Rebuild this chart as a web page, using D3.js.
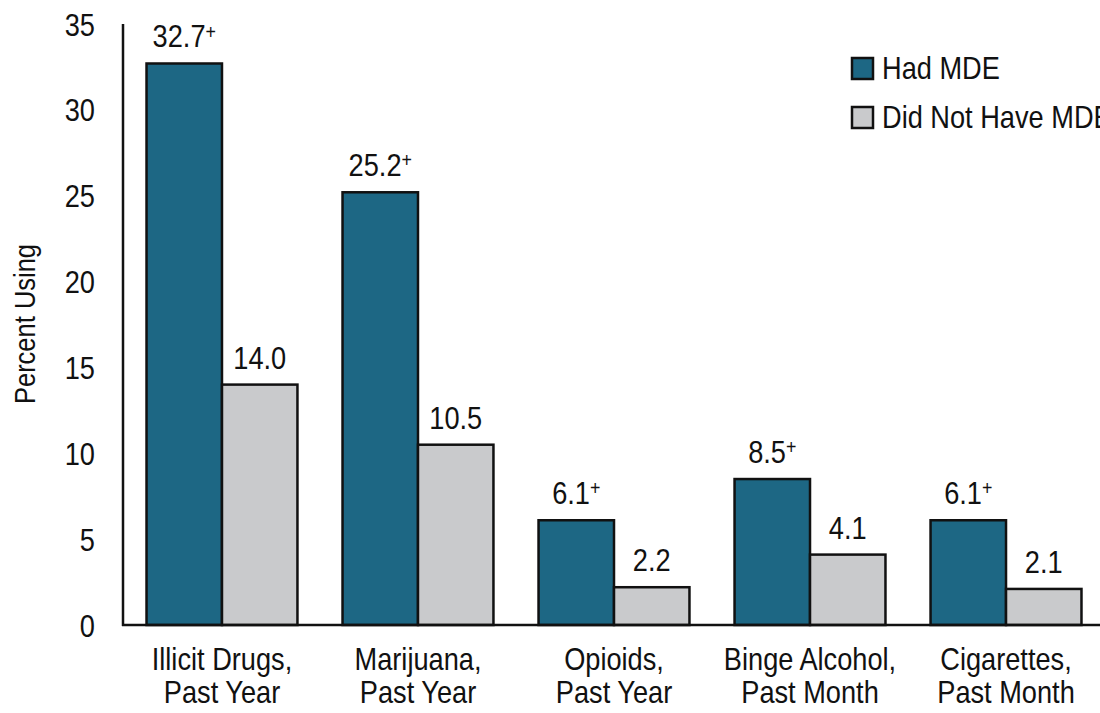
<!DOCTYPE html>
<html>
  <head>
    <meta charset="utf-8" />
    <title>Substance Use by MDE Status</title>
    <script src="https://d3js.org/d3.v7.min.js"></script>
    <style>
      body { margin: 0; background: #fff; }
      svg text { font-family: "Liberation Sans", Arial, sans-serif; fill: #111; }
    </style>
  </head>
  <body>
    <svg id="canvas" width="1100" height="713"></svg>
    <script>
      // data
      var categories = [
        ["Illicit Drugs,", "Past Year"],
        ["Marijuana,", "Past Year"],
        ["Opioids,", "Past Year"],
        ["Binge Alcohol,", "Past Month"],
        ["Cigarettes,", "Past Month"]
      ];
      var seriesNames = ["Had MDE", "Did Not Have MDE"];
      var hadMDE = [32.7, 25.2, 6.1, 8.5, 6.1];
      var noMDE = [14.0, 10.5, 2.2, 4.1, 2.1];
      var significant = [true, true, true, true, true]; // "+" marks on Had MDE
      var yTicks = [0, 5, 10, 15, 20, 25, 30, 35];

      var colors = ["#1d6784", "#c9cacc"];
      var squeeze = 0.85; // condensed look for the font

      var canvas = d3.select("#canvas");

      // place a text at x,y and squeeze it horizontally
      function place(sel, x, y, extra) {
        return sel.attr("transform", "translate(" + x + "," + y + ")" + (extra || "") + " scale(" + squeeze + ",1)");
      }

      var catKeys = categories.map(function (c) { return c.join(" "); });

      var x0 = d3.scaleBand()
        .domain(catKeys)
        .range([123, 1105])
        .paddingInner(0.23)
        .paddingOuter(0.12);

      var x1 = d3.scaleBand()
        .domain(seriesNames)
        .range([0, x0.bandwidth()])
        .padding(0);

      var y = d3.scaleLinear().domain([0, 35]).range([625, 24]);

      // y tick labels (no tick marks)
      canvas.append("g")
        .selectAll("text")
        .data(yTicks)
        .enter()
        .append("text")
        .attr("dy", "0.36em")
        .attr("text-anchor", "end")
        .style("font-size", "32px")
        .each(function (d) { place(d3.select(this), 95, y(d)); })
        .text(function (d) { return d; });

      // y axis title
      place(canvas.append("text"), 35, 324, " rotate(-90)")
        .attr("text-anchor", "middle")
        .style("font-size", "30px")
        .text("Percent Using");

      // bars
      var rows = categories.map(function (c, i) {
        return { key: catKeys[i], vals: [hadMDE[i], noMDE[i]], sig: significant[i] };
      });

      var groups = canvas.selectAll("g.group")
        .data(rows)
        .enter()
        .append("g")
        .attr("class", "group")
        .attr("transform", function (d) { return "translate(" + x0(d.key) + ",0)"; });

      groups.selectAll("rect")
        .data(function (d) {
          return d.vals.map(function (v, j) { return { s: seriesNames[j], v: v, j: j }; });
        })
        .enter()
        .append("rect")
        .attr("x", function (d) { return x1(d.s); })
        .attr("y", function (d) { return y(d.v); })
        .attr("width", x1.bandwidth())
        .attr("height", function (d) { return y(0) - y(d.v); })
        .attr("fill", function (d) { return colors[d.j]; })
        .attr("stroke", "#111")
        .attr("stroke-width", 2.5);

      // value labels
      groups.selectAll("text.val")
        .data(function (d) {
          return d.vals.map(function (v, j) { return { s: seriesNames[j], v: v, j: j, sig: d.sig && j === 0 }; });
        })
        .enter()
        .append("text")
        .attr("class", "val")
        .attr("text-anchor", "middle")
        .style("font-size", "32px")
        .each(function (d) {
          var t = d3.select(this);
          place(t, x1(d.s) + x1.bandwidth() / 2, y(d.v) - 16);
          t.append("tspan").text(d.v.toFixed(1));
          if (d.sig) {
            t.append("tspan")
              .attr("dy", "-0.42em")
              .style("font-size", "21px")
              .text("+");
          }
        });

      // axes lines
      canvas.append("line")
        .attr("x1", 123).attr("x2", 123)
        .attr("y1", y(35)).attr("y2", y(0) + 1)
        .attr("stroke", "#111").attr("stroke-width", 2.5);
      canvas.append("line")
        .attr("x1", 122).attr("x2", 1100)
        .attr("y1", y(0)).attr("y2", y(0))
        .attr("stroke", "#111").attr("stroke-width", 2.5);

      // category labels
      canvas.append("g")
        .selectAll("text")
        .data(categories)
        .enter()
        .append("text")
        .attr("text-anchor", "middle")
        .style("font-size", "32px")
        .each(function (d, i) {
          var t = d3.select(this);
          place(t, x0(catKeys[i]) + x0.bandwidth() / 2, 670);
          t.append("tspan").attr("x", 0).text(d[0]);
          t.append("tspan").attr("x", 0).attr("dy", 33).text(d[1]);
        });

      // legend
      var legend = canvas.append("g").attr("transform", "translate(852,58)");
      seriesNames.forEach(function (name, i) {
        legend.append("rect")
          .attr("x", 0).attr("y", i * 49)
          .attr("width", 21).attr("height", 21)
          .attr("fill", colors[i])
          .attr("stroke", "#111")
          .attr("stroke-width", 2.5);
        place(legend.append("text"), 30, i * 49 + 21)
          .style("font-size", "32px")
          .text(name);
      });
    </script>
  </body>
</html>
